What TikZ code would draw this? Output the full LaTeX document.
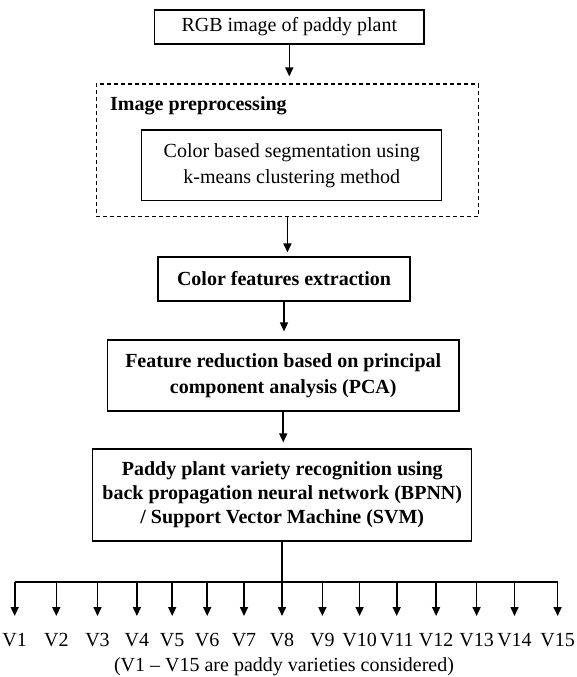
\documentclass[tikz,border=0pt]{standalone}
\usepackage{fontspec}
\setmainfont{Liberation Serif}
\usetikzlibrary{arrows.meta}
\begin{document}
\begin{tikzpicture}[x=1pt,y=-1pt,
  every node/.style={font=\fontsize{20}{26}\selectfont, inner sep=0pt},
  box/.style={draw, line width=1.2pt, rectangle, align=center},
  dbox/.style={draw, line width=1.2pt, dash pattern=on 4pt off 3pt, rectangle},
  arr/.style={line width=1.6pt, -{Triangle[length=9pt,width=8pt]}},
  lin/.style={line width=1.6pt}
]
\useasboundingbox (0,0) rectangle (577,677);
\node[box, minimum width=269.4pt, minimum height=34pt] (b1) at (289.3,27) {RGB image of paddy plant};
\node[dbox, minimum width=382.1pt, minimum height=132.7pt] (pre) at (287.45,150.35) {};
\node[anchor=west, font=\fontsize{20}{26}\selectfont\bfseries] (prel) at (110,106) {Image preprocessing};
\node[box, minimum width=300pt, minimum height=70.7pt] (seg) at (291.7,165.35) {Color based segmentation using\\k-means clustering method};
\node[box, minimum width=252pt, minimum height=44pt, font=\fontsize{20}{26}\selectfont\bfseries] (col) at (284,279) {Color features extraction};
\node[box, minimum width=351.5pt, minimum height=71pt, font=\fontsize{20}{26}\selectfont\bfseries] (pca) at (283.25,375.5) {Feature reduction based on principal\\component analysis (PCA)};
\node[box, minimum width=379.1pt, minimum height=92pt, font=\fontsize{20}{24}\selectfont\bfseries] (cls) at (282.25,495) {Paddy plant variety recognition using\\back propagation neural network (BPNN)\\/ Support Vector Machine (SVM)};

\draw[arr, shorten >=7pt] (b1.south) -- (b1.south |- pre.north);
\draw[arr, shorten >=4pt] (pre.south) -- (pre.south |- col.north);
\draw[arr, shorten >=8pt] (col.south) -- (col.south |- pca.north);
\draw[arr, shorten >=6pt] (pca.south) -- (pca.south |- cls.north);

\coordinate (split) at (282,582);
\coordinate (hl) at (14.7,582);
\coordinate (hr) at (557.6,582);
\draw[lin] (cls.south -| split) -- (split);
\draw[lin] (hl) -- (hr);

\foreach \i/\x in {1/14.7,2/56.3,3/97.5,4/136.9,5/172.2,6/207.2,7/244,8/282,9/322.4,10/359.6,11/396.7,12/436.1,13/476.6,14/514.5,15/557.6}{
  \coordinate (t\i) at (\x,582);
  \coordinate (a\i) at (\x,616);
  \node (v\i) at (\x,640) {V\i};
  \draw[arr] (t\i) -- (a\i);
}
\node (cap) at (284,667) {(V1 – V15 are paddy varieties considered)};
\end{tikzpicture}
\end{document}
